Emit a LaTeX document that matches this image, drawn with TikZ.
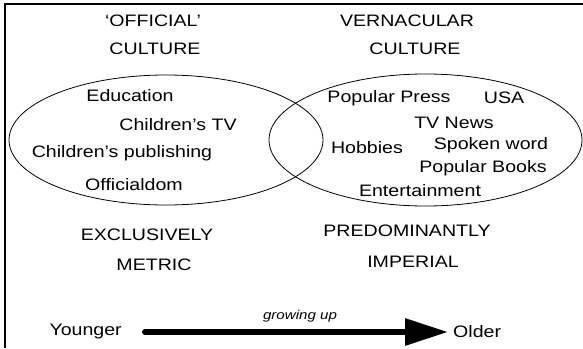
\documentclass[tikz,border=0pt]{standalone}
\usepackage{fontspec}
\setmainfont{Liberation Sans}
\usetikzlibrary{arrows.meta}
\tikzset{
  txt/.style={font=\fontsize{16.6}{20}\selectfont, inner sep=0pt, transform shape, xscale=1.18},
  smalltxt/.style={font=\fontsize{12.8}{15}\selectfont\itshape, inner sep=0pt, transform shape, xscale=1.18},
  venn/.style={draw, line width=0.8pt},
  frameline/.style={line width=2pt},
  growarrow/.style={line width=6pt, line cap=round, -{Triangle[length=43pt,width=26pt]}}
}
\begin{document}
\begin{tikzpicture}[x=1pt,y=-1pt]
\useasboundingbox (0,0) rectangle (583,348);
% frame
\coordinate (fb) at (4.5,348);
\coordinate (fc) at (4.5,3.5);
\coordinate (fr) at (583,3.5);
\draw[frameline] (fb) -- (fc) -- (fr);
% ellipses
\draw[venn] (166,140) ellipse [x radius=157, y radius=65];
\draw[venn] (425.5,140) ellipse [x radius=156.5, y radius=66];
% headings
\node[txt] (off) at (153,21) {‘OFFICIAL’};
\node[txt] (cul1) at (155,49) {CULTURE};
\node[txt] (ver) at (407,21) {VERNACULAR};
\node[txt] (cul2) at (415,49) {CULTURE};
% left items
\node[txt] (edu) at (130,96) {Education};
\node[txt] (ctv) at (178,125) {Children’s TV};
\node[txt] (cpub) at (122,153) {Children’s publishing};
\node[txt] (offd) at (134,185) {Officialdom};
% right items
\node[txt] (pp) at (389,98) {Popular Press};
\node[txt] (usa) at (504,98) {USA};
\node[txt] (tvn) at (454,123) {TV News};
\node[txt] (hob) at (367,148) {Hobbies};
\node[txt] (spw) at (491,145) {Spoken word};
\node[txt] (pb) at (483,168) {Popular Books};
\node[txt] (ent) at (420,191) {Entertainment};
% bottom labels
\node[txt] (excl) at (147,235) {EXCLUSIVELY};
\node[txt] (met) at (154,265) {METRIC};
\node[txt] (pred) at (407,231) {PREDOMINANTLY};
\node[txt] (imp) at (413,262) {IMPERIAL};
% arrow
\node[txt, anchor=east] (young) at (122,332) {Younger};
\node[txt, anchor=west] (old) at (453,332) {Older};
\node[smalltxt] (grow) at (300,316) {growing up};
\draw[growarrow, shorten <=23pt, shorten >=5pt] (young.east) -- (old.west);
\end{tikzpicture}
\end{document}
